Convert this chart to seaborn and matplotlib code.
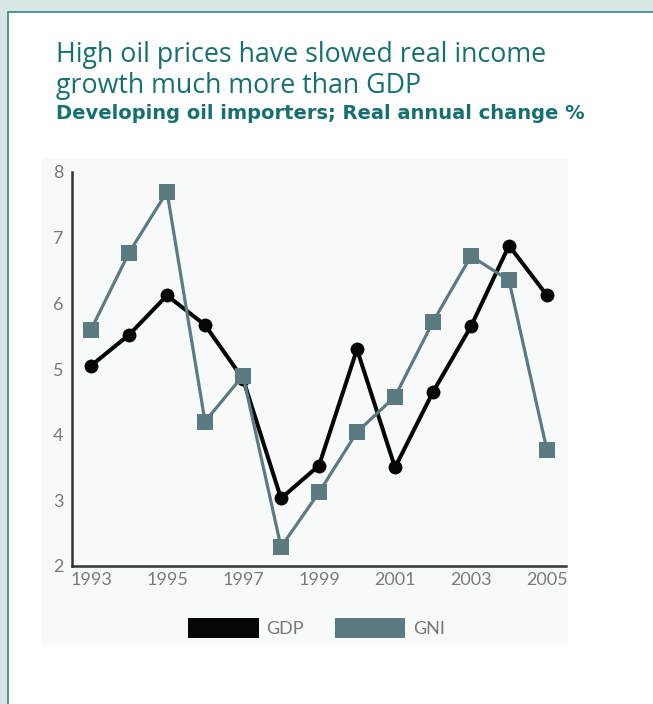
import matplotlib
matplotlib.use("Agg")
import matplotlib.pyplot as plt
import seaborn as sns
import pandas as pd
from matplotlib.patches import Rectangle, Patch

years = list(range(1993, 2006))
gdp = [5.05, 5.52, 6.12, 5.67, 4.85, 3.03, 3.53, 5.30, 3.50, 4.65, 5.65, 6.88, 6.12]
gni = [5.60, 6.77, 7.70, 4.20, 4.90, 2.29, 3.12, 4.04, 4.58, 5.72, 6.72, 6.35, 3.76]
series_names = ["GDP", "GNI"]
year_labels = [1993, 1995, 1997, 1999, 2001, 2003, 2005]
y_ticks = [2, 3, 4, 5, 6, 7, 8]

df = pd.DataFrame({
    "year": years * 2,
    "value": gdp + gni,
    "series": ["GDP"] * len(years) + ["GNI"] * len(years),
})

sns.set_style("white")
plt.rcParams["font.family"] = ["Lato", "DejaVu Sans"]

W, H = 653, 704
fig = plt.figure(figsize=(W / 100, H / 100), dpi=100)
fig.patch.set_facecolor("#d9e6e6")

# white framed box
fig.patches.append(Rectangle((8 / W, -0.01), 1.0, 1 - 12 / H + 0.01, transform=fig.transFigure,
                             facecolor="white", edgecolor="#3a8686", linewidth=1.2, zorder=-3))
# faint chart panel
fig.patches.append(Rectangle((42 / W, 1 - 645 / H), (568 - 42) / W, (645 - 158) / H,
                             transform=fig.transFigure, facecolor="#f8f9f9",
                             edgecolor="none", zorder=-2))

teal = "#16706f"
fig.text(56 / W, 1 - 61.7 / H, "High oil prices have slowed real income", color=teal,
         fontsize=19.3, family=["Open Sans", "DejaVu Sans"], va="baseline", ha="left")
fig.text(56 / W, 1 - 93.3 / H, "growth much more than GDP", color=teal,
         fontsize=19.3, family=["Open Sans", "DejaVu Sans"], va="baseline", ha="left")
fig.text(56 / W, 1 - 119.3 / H, "Developing oil importers; Real annual change %", color=teal,
         fontsize=14, family=["DejaVu Sans"], fontweight="bold", va="baseline", ha="left")

left, right = 72, 566
bottom, top = 566, 172
ax = fig.add_axes([left / W, 1 - bottom / H, (right - left) / W, (bottom - top) / H])
ax.set_facecolor("none")

palette = {"GDP": "#050505", "GNI": "#5b7b80"}
sns.lineplot(data=df, x="year", y="value", hue="series", style="series",
             markers={"GDP": "o", "GNI": "s"}, dashes=False, palette=palette,
             linewidth=2.5, markersize=10, markeredgewidth=0, legend=False, ax=ax,
             hue_order=series_names)
for line in ax.get_lines():
    if line.get_marker() == "s":
        line.set_markersize(11.5)
        line.set_linewidth(2.3)
    elif line.get_marker() == "o":
        line.set_linewidth(2.9)

ax.set_xlim(1992.5, 2005.5)
ax.set_ylim(2, 8)
ax.set_xlabel("")
ax.set_ylabel("")
for s in ["top", "right"]:
    ax.spines[s].set_visible(False)
for s in ["left", "bottom"]:
    ax.spines[s].set_color("#333333")
    ax.spines[s].set_linewidth(1.8)

ax.set_yticks(y_ticks)
ax.set_yticklabels([str(v) for v in y_ticks])
ax.tick_params(axis="y", direction="in", length=9, width=1.8, color="#333333",
               labelcolor="#7a7a7a", labelsize=13, pad=6)
ax.set_xticks(year_labels)
ax.set_xticklabels([str(v) for v in year_labels])
ax.set_xticks([y + 0.5 for y in years], minor=True)
ax.tick_params(axis="x", which="major", length=0, labelcolor="#7a7a7a", labelsize=13, pad=4)
ax.tick_params(axis="x", which="minor", direction="in", length=6.5, width=1.8, color="#333333")

handles = [Patch(facecolor=palette[n], edgecolor="none", label=n) for n in series_names]
fig.legend(handles=handles, loc="center left", bbox_to_anchor=(172 / W, 1 - 628 / H),
           ncol=2, frameon=False, fontsize=13, handlelength=3.9, handleheight=1.33,
           handletextpad=0.43, columnspacing=1.7, labelcolor="#777777")

fig.savefig("out.png", dpi=100)
